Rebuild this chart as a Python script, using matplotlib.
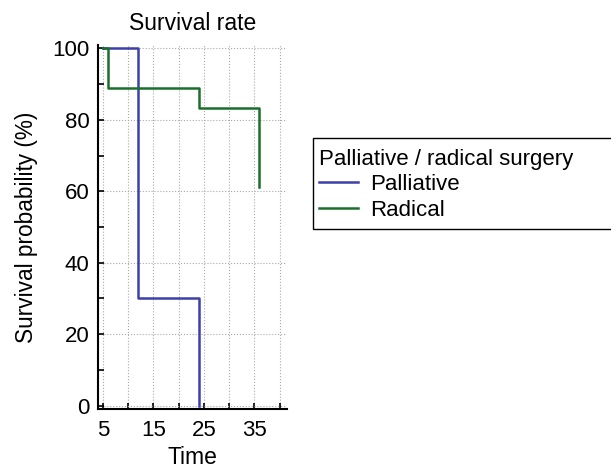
import numpy as np
import matplotlib.pyplot as plt
from matplotlib.patches import Rectangle

plt.rcParams['font.family'] = ['Liberation Sans', 'DejaVu Sans']

# Kaplan-Meier step data (time, survival %)
pall_time = [0, 12, 24]
pall_surv = [100, 30, 0]
pall_start = 5

rad_time = [0, 6, 24, 36]
rad_surv = [100, 88.9, 83.3, 61.1]
rad_start = 5

xticks = [5, 15, 25, 35]
yticks = [0, 20, 40, 60, 80, 100]


def km_steps(start, times, surv):
    xs = [start]
    ys = [surv[0]]
    for t, s_prev, s in zip(times[1:], surv[:-1], surv[1:]):
        xs += [t, t]
        ys += [s_prev, s]
    return xs, ys


fig = plt.figure(figsize=(6.11, 4.72), dpi=100)
ax = fig.add_axes([0.160, 0.133, 0.310, 0.772])

px, py = km_steps(pall_start, pall_time, pall_surv)
rx, ry = km_steps(rad_start, rad_time, rad_surv)
ax.plot(px, py, color='#3d3fab', lw=1.8, label='Palliative')
ax.plot(rx, ry, color='#1c6e2c', lw=1.8, label='Radical')

ax.set_xlim(4, 41.5)
ax.set_ylim(-1, 101)
ax.set_xticks(xticks)
ax.set_xticks([10, 20, 30, 40], minor=True)
ax.set_yticks(yticks)
ax.set_yticks([10, 30, 50, 70, 90], minor=True)
ax.grid(True, which='major', axis='y', ls=':', color='#aaaaaa', lw=0.8)
ax.grid(True, which='both', axis='x', ls=':', color='#aaaaaa', lw=0.8)

for s in ['top', 'right']:
    ax.spines[s].set_visible(False)
for s in ['left', 'bottom']:
    ax.spines[s].set_linewidth(1.5)
ax.tick_params(which='both', direction='in', length=4, width=1.2, labelsize=16)
ax.tick_params(axis='x', pad=8)
ax.tick_params(axis='y', pad=6)

ax.set_title('Survival rate', fontsize=16.5, pad=11)
ax.set_xlabel('Time', fontsize=16.5, labelpad=3)
ax.set_ylabel('Survival probability (%)', fontsize=16.3, labelpad=10)

# legend box runs off the right edge of the figure
fig.patches.append(Rectangle((0.512, 0.515), 0.52, 0.193, transform=fig.transFigure,
                             fill=False, edgecolor='black', lw=1.0, clip_on=False))
leg = fig.legend(loc='upper left', bbox_to_anchor=(0.522, 0.685),
                 title='Palliative / radical surgery', alignment='left',
                 fontsize=16, title_fontsize=16, frameon=False,
                 handlelength=1.75, handletextpad=0.55,
                 labelspacing=0.2, borderpad=0, borderaxespad=0)

fig.savefig('out.png', dpi=100)
